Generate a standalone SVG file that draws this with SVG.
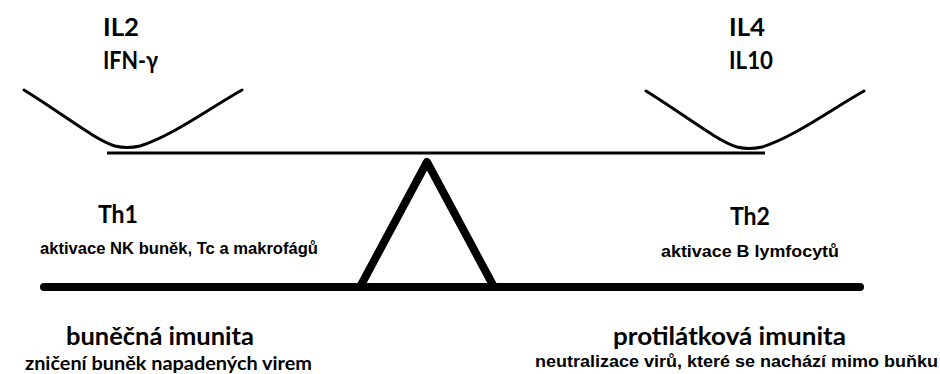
<svg xmlns="http://www.w3.org/2000/svg" width="940" height="374" viewBox="0 0 940 374">
  <style>
    .head { font-family: Lato, "Open Sans", "Liberation Sans", sans-serif; font-weight: 700; fill: #000; }
    .note { font-family: "Liberation Sans", Arial, sans-serif; font-weight: 700; fill: #000; }
    .cup { fill: none; stroke: #000; stroke-width: 3; stroke-linecap: round; }
  </style>
  <defs>
    <path id="cup-shape" d="M24,90 C60,112 95,140 115,146 Q127,149 140,146 C172,136 210,108 242,90"/>
  </defs>
  <rect width="940" height="374" fill="#fff"/>

  <g id="connectors">
    <!-- balance beam -->
    <line x1="107" y1="153" x2="765" y2="153" stroke="#000" stroke-width="3"/>
    <!-- fulcrum -->
    <polyline points="360,287 427,162 494,287" fill="none" stroke="#000" stroke-width="8" stroke-linejoin="round"/>
    <!-- ground -->
    <line x1="44" y1="287" x2="860" y2="287" stroke="#000" stroke-width="8" stroke-linecap="round"/>
  </g>

  <g id="pan-left">
    <use href="#cup-shape" class="cup"/>
    <text class="head" x="103" y="36" font-size="25" textLength="36" lengthAdjust="spacingAndGlyphs">IL2</text>
    <text class="head" x="103" y="69" font-size="25" textLength="55" lengthAdjust="spacingAndGlyphs">IFN-γ</text>
  </g>

  <g id="pan-right">
    <use href="#cup-shape" class="cup" transform="translate(622,1)"/>
    <text class="head" x="729" y="36" font-size="25" textLength="36" lengthAdjust="spacingAndGlyphs">IL4</text>
    <text class="head" x="729" y="69" font-size="25" textLength="44" lengthAdjust="spacingAndGlyphs">IL10</text>
  </g>

  <g id="th1">
    <text class="head" x="98" y="223" font-size="25" textLength="40" lengthAdjust="spacingAndGlyphs">Th1</text>
    <text class="note" x="40" y="254" font-size="16.5" textLength="278" lengthAdjust="spacingAndGlyphs">aktivace NK buněk, Tc a makrofágů</text>
  </g>

  <g id="th2">
    <text class="head" x="730" y="225" font-size="25" textLength="40" lengthAdjust="spacingAndGlyphs">Th2</text>
    <text class="note" x="661" y="257" font-size="16.5" textLength="178" lengthAdjust="spacingAndGlyphs">aktivace B lymfocytů</text>
  </g>

  <g id="cellular">
    <text class="head" x="66" y="345" font-size="24" textLength="188" lengthAdjust="spacingAndGlyphs">buněčná imunita</text>
    <text class="head" x="25" y="370" font-size="19" textLength="287" lengthAdjust="spacingAndGlyphs">zničení buněk napadených virem</text>
  </g>

  <g id="humoral">
    <text class="head" x="613" y="345" font-size="24" textLength="233" lengthAdjust="spacingAndGlyphs">protilátková imunita</text>
    <text class="note" x="535" y="367" font-size="16.5" textLength="403" lengthAdjust="spacingAndGlyphs">neutralizace virů, které se nachází mimo buňku</text>
  </g>
</svg>
